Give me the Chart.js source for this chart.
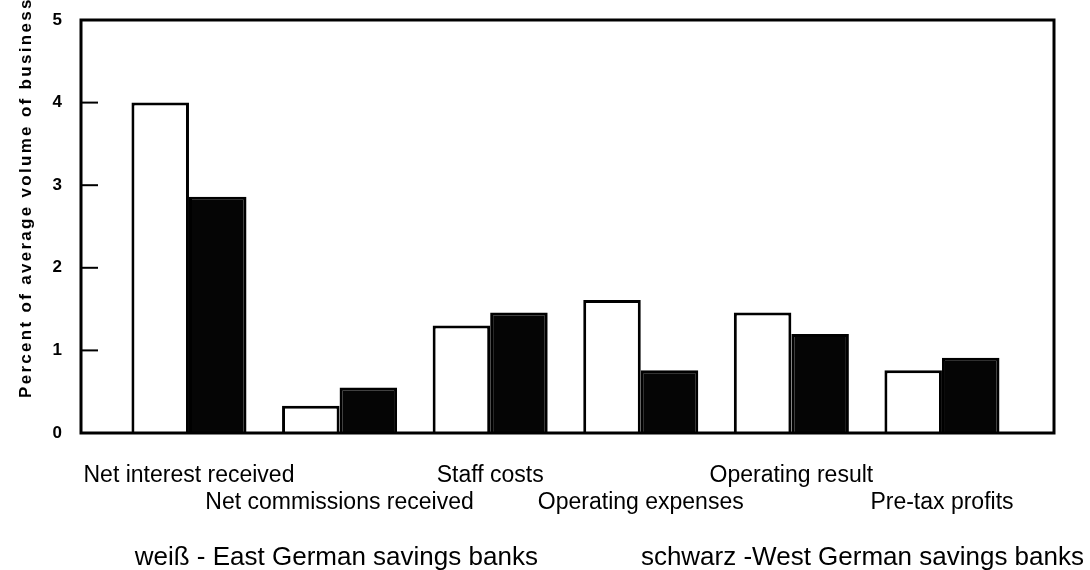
<!DOCTYPE html>
<html>
<head>
<meta charset="utf-8">
<script src="https://cdn.jsdelivr.net/npm/chart.js@4.4.1/dist/chart.umd.min.js"></script>
<style>
  html, body { margin: 0; padding: 0; background: #fff; }
  #wrap { width: 1090px; height: 570px; }
</style>
</head>
<body>
<div id="wrap"><canvas id="myChart" width="1090" height="570"></canvas></div>
<script>
const categories = [
    'Net interest received',
    'Net commissions received',
    'Staff costs',
    'Operating expenses',
    'Operating result',
    'Pre-tax profits'
];
const eastValues = [4.0, 0.33, 1.30, 1.61, 1.46, 0.76];
const westValues = [2.86, 0.55, 1.46, 0.76, 1.20, 0.91];
const yTickValues = [0, 1, 2, 3, 4, 5];
const eastLabel = 'weiß - East German savings banks';
const westLabel = 'schwarz -West German savings banks';
const yTitle = 'Percent of average volume of business';

Chart.defaults.font.family = '"Liberation Sans", Arial, sans-serif';
Chart.defaults.color = '#000';

// frame, inward ticks and the spaced-out y title
const framePlugin = {
    id: 'frame',
    afterDatasetsDraw(chart) {
        const { ctx, chartArea } = chart;
        const y = chart.scales.y;
        ctx.save();
        ctx.strokeStyle = '#000';
        ctx.lineWidth = 3;
        ctx.strokeRect(chartArea.left, chartArea.top, chartArea.right - chartArea.left, chartArea.bottom - chartArea.top);
        ctx.lineWidth = 2;
        yTickValues.forEach(v => {
            const py = y.getPixelForValue(v);
            ctx.beginPath();
            ctx.moveTo(chartArea.left, py);
            ctx.lineTo(chartArea.left + 17, py);
            ctx.stroke();
        });
        ctx.restore();
    },
    afterDraw(chart) {
        const { ctx } = chart;
        ctx.save();
        ctx.translate(26, 398);
        ctx.rotate(-Math.PI / 2);
        ctx.font = 'bold 17px "Liberation Sans", Arial, sans-serif';
        if ('letterSpacing' in ctx) ctx.letterSpacing = '2.3px';
        ctx.fillStyle = '#000';
        ctx.textAlign = 'left';
        ctx.textBaseline = 'middle';
        ctx.fillText(yTitle, 0, 0);
        ctx.restore();
    }
};

new Chart(document.getElementById('myChart'), {
    type: 'bar',
    data: {
        datasets: [{
            label: eastLabel,
            data: eastValues.map((v, i) => ({ x: i, y: v })),
            backgroundColor: '#ffffff',
            borderColor: '#000000',
            borderWidth: 3
        }, {
            label: westLabel,
            data: westValues.map((v, i) => ({ x: i, y: v })),
            backgroundColor: '#050505',
            borderColor: '#000000',
            borderWidth: 3
        }]
    },
    options: {
        responsive: false,
        animation: false,
        layout: { padding: { left: 0, right: 0, top: 20, bottom: -11 } },
        datasets: {
            bar: { barPercentage: 1, categoryPercentage: 0.764 }
        },
        plugins: {
            tooltip: { enabled: false },
            legend: {
                position: 'bottom',
                align: 'end',
                labels: {
                    font: { size: 26 },
                    color: '#000',
                    padding: 6,
                    boxWidth: 84,
                    boxHeight: 1,
                    generateLabels(chart) {
                        return chart.data.datasets.map((ds, i) => ({
                            text: ds.label,
                            fillStyle: 'rgba(0,0,0,0)',
                            strokeStyle: 'rgba(0,0,0,0)',
                            lineWidth: 0,
                            fontColor: '#000',
                            datasetIndex: i
                        }));
                    }
                }
            }
        },
        scales: {
            x: {
                type: 'linear',
                offset: false,
                min: -0.717,
                max: 5.744,
                grid: { display: false },
                border: { display: false },
                afterBuildTicks(scale) {
                    scale.ticks = categories.map((c, i) => ({ value: i }));
                },
                afterFit(scale) { scale.height = 106; },
                ticks: {
                    autoSkip: false,
                    maxRotation: 0,
                    padding: 21,
                    font: { size: 23, lineHeight: 1.17 },
                    color: '#000',
                    callback: (value) => {
                        const i = Math.round(value);
                        return i % 2 === 0 ? categories[i] : ['', categories[i]];
                    }
                }
            },
            y: {
                min: 0,
                max: 5,
                afterBuildTicks(scale) {
                    scale.ticks = yTickValues.map(v => ({ value: v }));
                },
                afterFit(scale) {
                    scale.width = 81;
                    scale.paddingTop = 0;
                    scale.paddingBottom = 0;
                },
                grid: { display: false, drawTicks: false },
                border: { display: false },
                ticks: {
                    padding: 19,
                    font: { size: 17, weight: 'bold' },
                    color: '#000'
                }
            },
            y2: {
                type: 'linear',
                position: 'right',
                display: true,
                grid: { display: false },
                border: { display: false },
                ticks: { display: false },
                afterFit(scale) { scale.width = 36; }
            }
        }
    },
    plugins: [framePlugin]
});
</script>
</body>
</html>
